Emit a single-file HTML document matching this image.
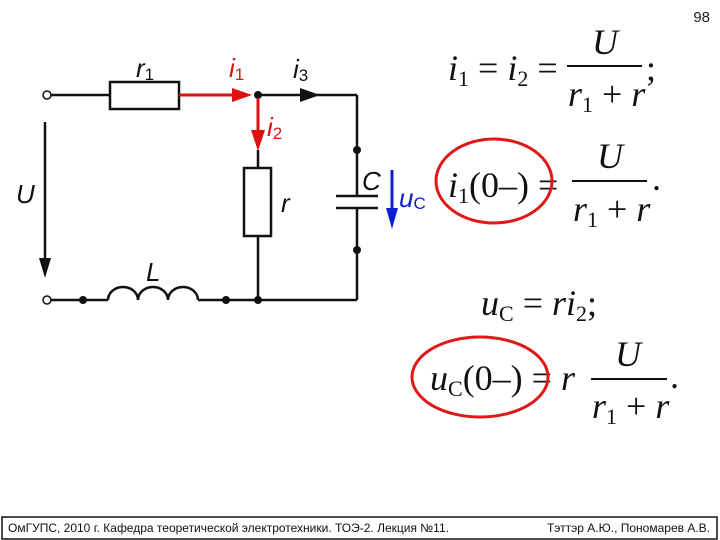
<!DOCTYPE html>
<html><head><meta charset="utf-8"><style>
html,body{margin:0;padding:0;background:#fff;}
svg{display:block;}
.m{font-family:"Liberation Serif",serif;font-style:italic;font-size:36px;fill:#111;}
.n{font-family:"Liberation Serif",serif;font-style:normal;}
.s{font-family:"Liberation Sans",sans-serif;font-style:italic;font-size:26px;}
</style></head><body>
<svg width="720" height="540" viewBox="0 0 720 540" xmlns="http://www.w3.org/2000/svg">
<text x="710" y="22" text-anchor="end" font-family="Liberation Sans,sans-serif" font-size="15" fill="#222">98</text>
<g stroke="#111" stroke-width="2.5" fill="none">
<line x1="51" y1="95" x2="110" y2="95"/>
<rect x="110" y="82" width="69" height="27" fill="#fff"/>
<line x1="258" y1="95" x2="357" y2="95"/>
<line x1="357" y1="95" x2="357" y2="196"/>
<line x1="357" y1="208" x2="357" y2="300"/>
<line x1="336" y1="196" x2="378" y2="196"/>
<line x1="336" y1="208" x2="378" y2="208"/>
<line x1="258" y1="150" x2="258" y2="168"/>
<rect x="244" y="168" width="27" height="68" fill="#fff"/>
<line x1="258" y1="236" x2="258" y2="300"/>
<line x1="51" y1="300" x2="108" y2="300"/>
<path d="M108 300 a15 13 0 0 1 30 0 a15 13 0 0 1 30 0 a15 13 0 0 1 30 0"/>
<line x1="198" y1="300" x2="357" y2="300"/>
<line x1="45" y1="122" x2="45" y2="262"/>
</g>
<circle cx="47" cy="95" r="4" fill="#fff" stroke="#111" stroke-width="1.5"/>
<circle cx="47" cy="300" r="4" fill="#fff" stroke="#111" stroke-width="1.5"/>
<g fill="#111">
<circle cx="258" cy="95" r="4"/><circle cx="357" cy="150" r="4"/><circle cx="357" cy="250" r="4"/>
<circle cx="83" cy="300" r="4"/><circle cx="226" cy="300" r="4"/><circle cx="258" cy="300" r="4"/>
<polygon points="300,88 320,95 300,102"/>
<polygon points="39,258 51,258 45,278"/>
</g>
<g stroke="#e01010" stroke-width="3" fill="none">
<line x1="179" y1="95" x2="240" y2="95"/>
<line x1="258" y1="98" x2="258" y2="135"/>
</g>
<g fill="#e01010">
<polygon points="232,88 252,95 232,102"/>
<polygon points="251,130 265,130 258,151"/>
</g>
<line x1="392" y1="170" x2="392" y2="212" stroke="#1020d0" stroke-width="3"/>
<polygon points="386,208 398,208 392,229" fill="#1020d0"/>
<g class="s" fill="#111">
<text x="136" y="77">r<tspan font-size="17" dy="3" font-style="normal">1</tspan></text>
<text x="293" y="78">i<tspan font-size="17" dy="3" font-style="normal">3</tspan></text>
<text x="16" y="203">U</text>
<text x="281" y="212">r</text>
<text x="362" y="190">C</text>
<text x="146" y="281">L</text>
</g>
<g class="s" fill="#e01010">
<text x="229" y="77">i<tspan font-size="17" dy="3" font-style="normal">1</tspan></text>
<text x="267" y="136">i<tspan font-size="17" dy="3" font-style="normal">2</tspan></text>
</g>
<text x="399" y="207" class="s" fill="#1020d0">u<tspan font-size="17" dy="2" font-style="normal">C</tspan></text>
<g class="m">
<text x="448" y="80">i<tspan font-size="22" dy="6" class="n">1</tspan><tspan dy="-6" class="n"> = </tspan>i<tspan font-size="22" dy="6" class="n">2</tspan><tspan dy="-6" class="n"> =</tspan></text>
<text x="605" y="54" text-anchor="middle">U</text>
<text x="568" y="106">r<tspan font-size="22" dy="6" class="n">1</tspan><tspan dy="-6" class="n"> + </tspan>r</text>
<text x="646" y="80" class="n">;</text>
<text x="448" y="197">i<tspan font-size="22" dy="6" class="n">1</tspan><tspan dy="-6" class="n">(0–) =</tspan></text>
<text x="610" y="168" text-anchor="middle">U</text>
<text x="573" y="221">r<tspan font-size="22" dy="6" class="n">1</tspan><tspan dy="-6" class="n"> + </tspan>r</text>
<text x="652" y="190" class="n">.</text>
<text x="481" y="315">u<tspan font-size="22" dy="6" class="n">C</tspan><tspan dy="-6" class="n"> = </tspan>ri<tspan font-size="22" dy="6" class="n">2</tspan><tspan dy="-6" class="n">;</tspan></text>
<text x="430" y="390">u<tspan font-size="22" dy="6" class="n">C</tspan><tspan dy="-6" class="n">(0–) = </tspan>r</text>
<text x="628" y="366" text-anchor="middle">U</text>
<text x="592" y="418">r<tspan font-size="22" dy="6" class="n">1</tspan><tspan dy="-6" class="n"> + </tspan>r</text>
<text x="670" y="388" class="n">.</text>
</g>
<g stroke="#111" stroke-width="2">
<line x1="567" y1="66" x2="642" y2="66"/>
<line x1="572" y1="181" x2="647" y2="181"/>
<line x1="591" y1="379" x2="667" y2="379"/>
</g>
<g fill="none" stroke="#e01818" stroke-width="3">
<ellipse cx="494" cy="181" rx="58" ry="42"/>
<ellipse cx="480" cy="377" rx="68" ry="40"/>
</g>
<rect x="2" y="517" width="715" height="22" fill="none" stroke="#111" stroke-width="1.5"/>
<g font-family="Liberation Sans,sans-serif" font-size="12" fill="#111">
<text x="8" y="532">ОмГУПС, 2010 г. Кафедра теоретической электротехники. ТОЭ-2. Лекция №11.</text>
<text x="710" y="532" text-anchor="end">Тэттэр А.Ю., Пономарев А.В.</text>
</g>
</svg>
</body></html>
